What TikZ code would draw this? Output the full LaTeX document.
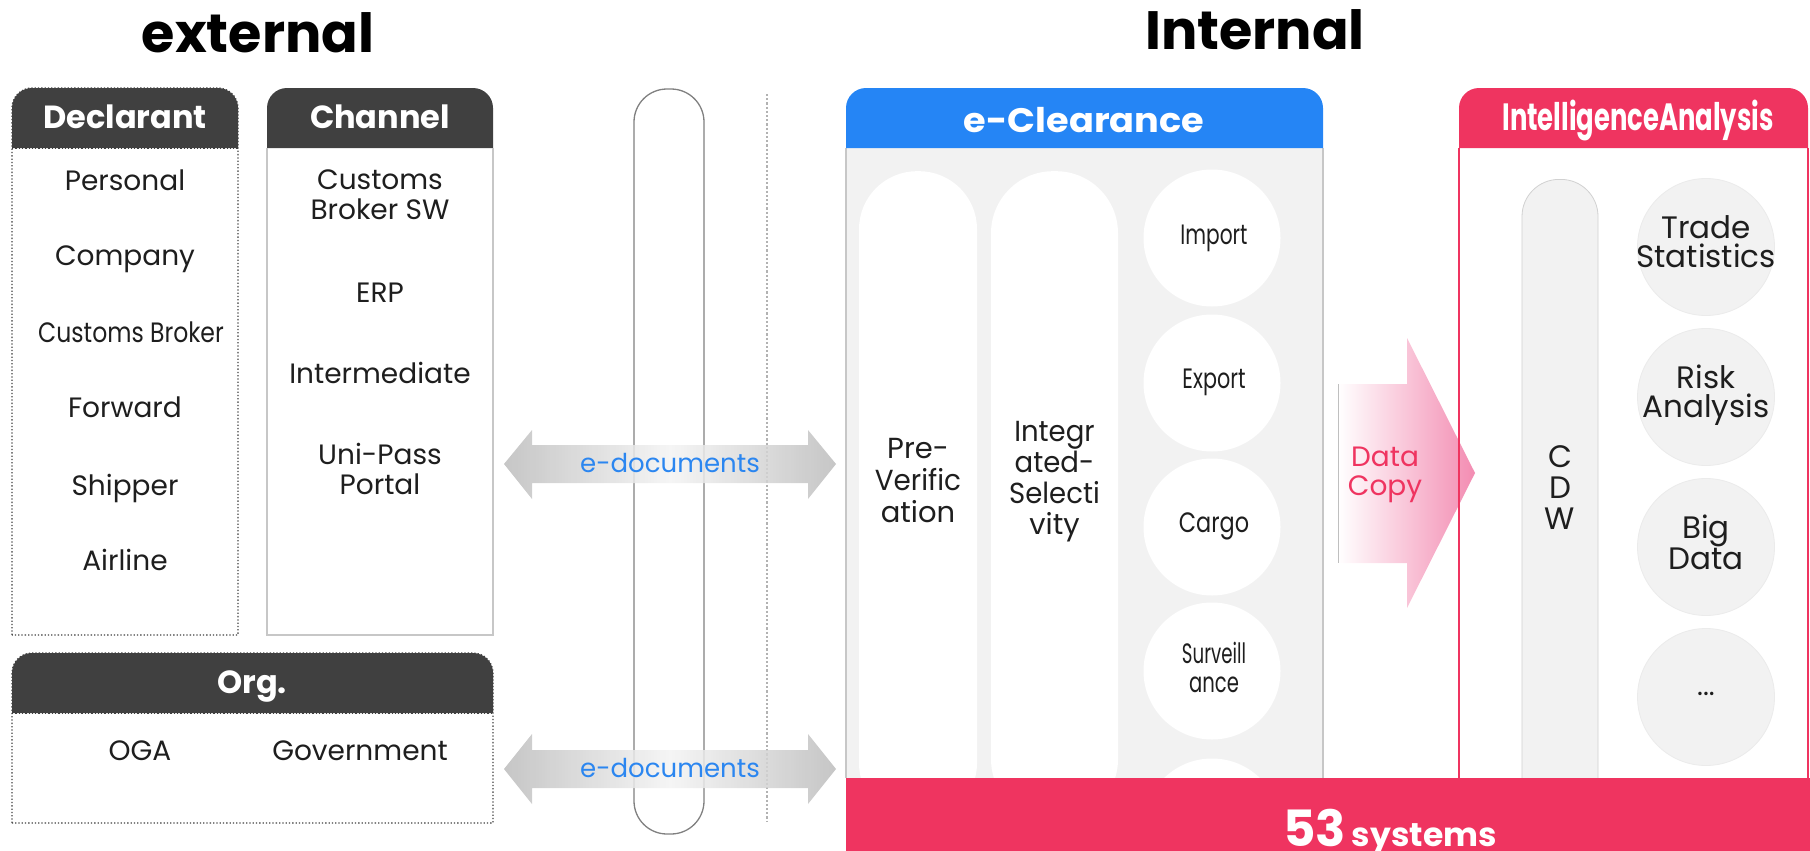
\documentclass[tikz,border=0pt]{standalone}
\usepackage{fontspec}
\setmainfont{Poppins}
\usepackage{graphicx}
\definecolor{darkhd}{RGB}{64,64,64}
\definecolor{blueh}{RGB}{37,133,245}
\definecolor{pinkc}{RGB}{239,52,96}
\definecolor{lightf}{RGB}{242,242,242}
\definecolor{txtc}{RGB}{30,30,30}
\definecolor{docblue}{RGB}{43,134,240}
\definecolor{arrowgray}{RGB}{188,188,188}
\definecolor{arrowmid}{RGB}{244,244,244}
\definecolor{arrowpink}{RGB}{243,140,178}
\newcommand{\fsz}[2]{\fontsize{#1}{#2}\selectfont}
\newcommand{\sqz}[2]{\scalebox{#1}[1]{#2}}
\tikzset{
  title/.style={inner sep=0pt, text=black, font=\fsz{54}{60}\bfseries},
  hdrtxt/.style={inner sep=0pt, text=white, font=\fsz{32}{36}\bfseries},
  body/.style={inner sep=0pt, text=txtc, font=\fsz{28}{30}, align=center},
  bigbody/.style={inner sep=0pt, text=txtc, font=\fsz{31}{29}, align=center},
  doctxt/.style={inner sep=0pt, text=docblue, font=\fsz{26}{28}},
  pinktxt/.style={inner sep=0pt, text=pinkc, font=\fsz{28}{29}, align=center},
  dotbd/.style={draw=black!75, dotted, line width=1.3pt},
  greybd/.style={draw=black!22, line width=1.5pt},
  busbox/.style={draw=black!50, line width=1.3pt, fill=white, rounded corners=33pt, inner sep=0pt, minimum width=70pt, minimum height=745pt},
  docarrow/.style={left color=arrowgray, right color=arrowgray, middle color=arrowmid, fill opacity=0.85},
  pill/.style={fill=white, inner sep=0pt, minimum height=650pt, anchor=north},
  wcirc/.style={circle, fill=white, inner sep=0pt, minimum size=137pt},
  gcirc/.style={circle, fill=lightf, draw=black!8, line width=0.8pt, inner sep=0pt, minimum size=137pt},
}
\begin{document}
\begin{tikzpicture}[x=1pt,y=-1pt]
\useasboundingbox (0,0) rectangle (1810,851);

% ---------- titles
\node[title, anchor=base] (ext) at (258,53) {external};
\node[title, anchor=base] (int) at (1255,50) {Internal};

% ---------- Declarant
\fill[white] (12,148) rectangle (238,635);
\fill[darkhd] (12,148) -- (12,108) arc[start angle=180,end angle=270,radius=20] -- (218,88) arc[start angle=270,end angle=360,radius=20] -- (238,148) -- cycle;
\draw[dotbd] (12,635) -- (12,108) arc[start angle=180,end angle=270,radius=20] -- (218,88) arc[start angle=270,end angle=360,radius=20] -- (238,635) -- cycle;
\draw[dotbd] (12,148) -- (238,148);
\node[hdrtxt, anchor=base] (declh) at (125,128) {Declarant};
\node[body, anchor=base] (d1) at (125,190) {Personal};
\node[body, anchor=base] (d2) at (125,265) {Company};
\node[body, anchor=base] (d3) at (131,342) {\sqz{0.84}{Customs Broker}};
\node[body, anchor=base] (d4) at (125,417) {Forward};
\node[body, anchor=base] (d5) at (125,495) {Shipper};
\node[body, anchor=base] (d6) at (125,570) {Airline};

% ---------- Channel
\fill[white] (267,148) rectangle (493,635);
\fill[darkhd] (267,148) -- (267,108) arc[start angle=180,end angle=270,radius=20] -- (473,88) arc[start angle=270,end angle=360,radius=20] -- (493,148) -- cycle;
\draw[greybd] (267,148) -- (267,635) -- (493,635) -- (493,148);
\node[hdrtxt, anchor=base] (chh) at (380,128) {Channel};
\node[body] (c1) at (380,195) {Customs\\Broker SW};
\node[body, anchor=base] (c2) at (380,302) {ERP};
\node[body, anchor=base] (c3) at (380,383) {Intermediate};
\node[body] (c4) at (380,469) {Uni-Pass\\Portal};

% ---------- Org.
\fill[white] (12,713) rectangle (493,823);
\fill[darkhd] (12,713) -- (12,673) arc[start angle=180,end angle=270,radius=20] -- (473,653) arc[start angle=270,end angle=360,radius=20] -- (493,713) -- cycle;
\draw[dotbd] (12,823) -- (12,673) arc[start angle=180,end angle=270,radius=20] -- (473,653) arc[start angle=270,end angle=360,radius=20] -- (493,823) -- cycle;
\draw[dotbd] (12,713) -- (493,713);
\node[hdrtxt, anchor=base] (orgh) at (252,693) {Org.};
\node[body, anchor=base] (o1) at (140,760) {OGA};
\node[body, anchor=base] (o2) at (360,760) {Government};

% ---------- middle bus and separator
\node[busbox] (bus) at (669,461.5) {};
\coordinate (sepT) at (767,94);
\coordinate (sepB) at (767,822);
\draw[black!30, dotted, line width=2.2pt] (sepT) -- (sepB);

% ---------- e-documents arrows
\shade[docarrow] (504,464) -- (532,430) -- (532,445) -- (808,445) -- (808,430) -- (836,464) -- (808,499) -- (808,483) -- (532,483) -- (532,499) -- cycle;
\shade[docarrow] (504,769) -- (532,734) -- (532,750) -- (808,750) -- (808,734) -- (836,769) -- (808,804) -- (808,788) -- (532,788) -- (532,804) -- cycle;
\node[doctxt, anchor=base] (doc1) at (670,472) {e-documents};
\node[doctxt, anchor=base] (doc2) at (670,777) {e-documents};

% ---------- e-Clearance
\fill[lightf] (846,148) rectangle (1323,778);
\draw[greybd] (846,148) -- (846,778) (1323,148) -- (1323,778);
\fill[blueh] (846,148) -- (846,108) arc[start angle=180,end angle=270,radius=20] -- (1303,88) arc[start angle=270,end angle=360,radius=20] -- (1323,148) -- cycle;
\node[hdrtxt, anchor=base, font=\fsz{34}{36}\bfseries] (eclh) at (1084,132) {\scalebox{1.08}[1]{e-Clearance}};
\node[pill, minimum width=118pt, rounded corners=58pt] (prev) at (918,171) {};
\node[pill, minimum width=127pt, rounded corners=62pt] (isel) at (1054.5,171) {};
\node[wcirc] (cimp) at (1212,238) {};
\node[wcirc] (cexp) at (1212,383) {};
\node[wcirc] (ccar) at (1212,527) {};
\node[wcirc] (csur) at (1212,671) {};
\node[wcirc] (cfif) at (1212,827) {};
\node[body, font=\fsz{29}{32}] (prevt) at (918,481) {Pre-\\\sqz{0.96}{Verific}\\ation};
\node[body, font=\fsz{29}{31}] (iselt) at (1054.5,482) {\sqz{0.95}{Integr}\\\sqz{0.95}{ated-}\\\sqz{0.95}{Selecti}\\vity};
\node[body, anchor=base] (timp) at (1214,244) {\sqz{0.72}{Import}};
\node[body, anchor=base] (texp) at (1214,388) {\sqz{0.74}{Export}};
\node[body, anchor=base] (tcar) at (1214,532) {\sqz{0.8}{Cargo}};
\node[body, font=\fsz{28}{29}] (tsur) at (1214,667) {\sqz{0.65}{Surveill}\\\sqz{0.7}{ance}};

% ---------- Intelligence Analysis
\fill[white] (1459,148) rectangle (1808,778);
\fill[pinkc] (1459,148) -- (1459,108) arc[start angle=180,end angle=270,radius=20] -- (1788,88) arc[start angle=270,end angle=360,radius=20] -- (1808,148) -- cycle;
\node[hdrtxt, anchor=base, font=\fsz{38}{40}\bfseries] (intelh) at (1638,130) {\sqz{0.68}{IntelligenceAnalysis}};
\node[pill, fill=lightf, draw=black!18, line width=0.8pt, minimum width=76pt, rounded corners=37pt] (cdw) at (1560,179) {};
\node[gcirc] (ctrade) at (1706,247) {};
\node[gcirc] (crisk) at (1706,397) {};
\node[gcirc] (cbig) at (1706,547) {};
\node[gcirc] (cmore) at (1706,697) {};
\node[bigbody] (ttrade) at (1706,242) {Trade\\Statistics};
\node[bigbody] (trisk) at (1706,395) {Risk\\Analysis};
\node[bigbody] (tbig) at (1706,542) {Big\\Data};
\node[body, anchor=base] (tmore) at (1706,695) {...};
\node[bigbody, font=\fsz{31}{31}] (tcdw) at (1560,488) {C\\D\\W};

% Data Copy arrow
\shade[left color=white, right color=arrowpink] (1338,384) -- (1407,384) -- (1407,338) -- (1475,473) -- (1407,608) -- (1407,563) -- (1338,563) -- cycle;
\coordinate (dcT) at (1338,384);
\coordinate (dcB) at (1338,563);
\draw[black!25, line width=1pt] (dcT) -- (dcB);
\node[pinktxt] (dcopy) at (1385,475) {Data\\Copy};
\draw[pinkc, line width=2.5pt] (1459,148) -- (1459,778) (1808,148) -- (1808,778);

% ---------- 53 systems bar
\fill[pinkc] (846,778) rectangle (1810,856);
\node[anchor=base west, inner sep=0pt, text=white] (sys) at (1283,846) {{\fsz{50}{50}\bfseries 53}\hspace{6pt}{\fsz{33}{33}\bfseries systems}};
\end{tikzpicture}
\end{document}
